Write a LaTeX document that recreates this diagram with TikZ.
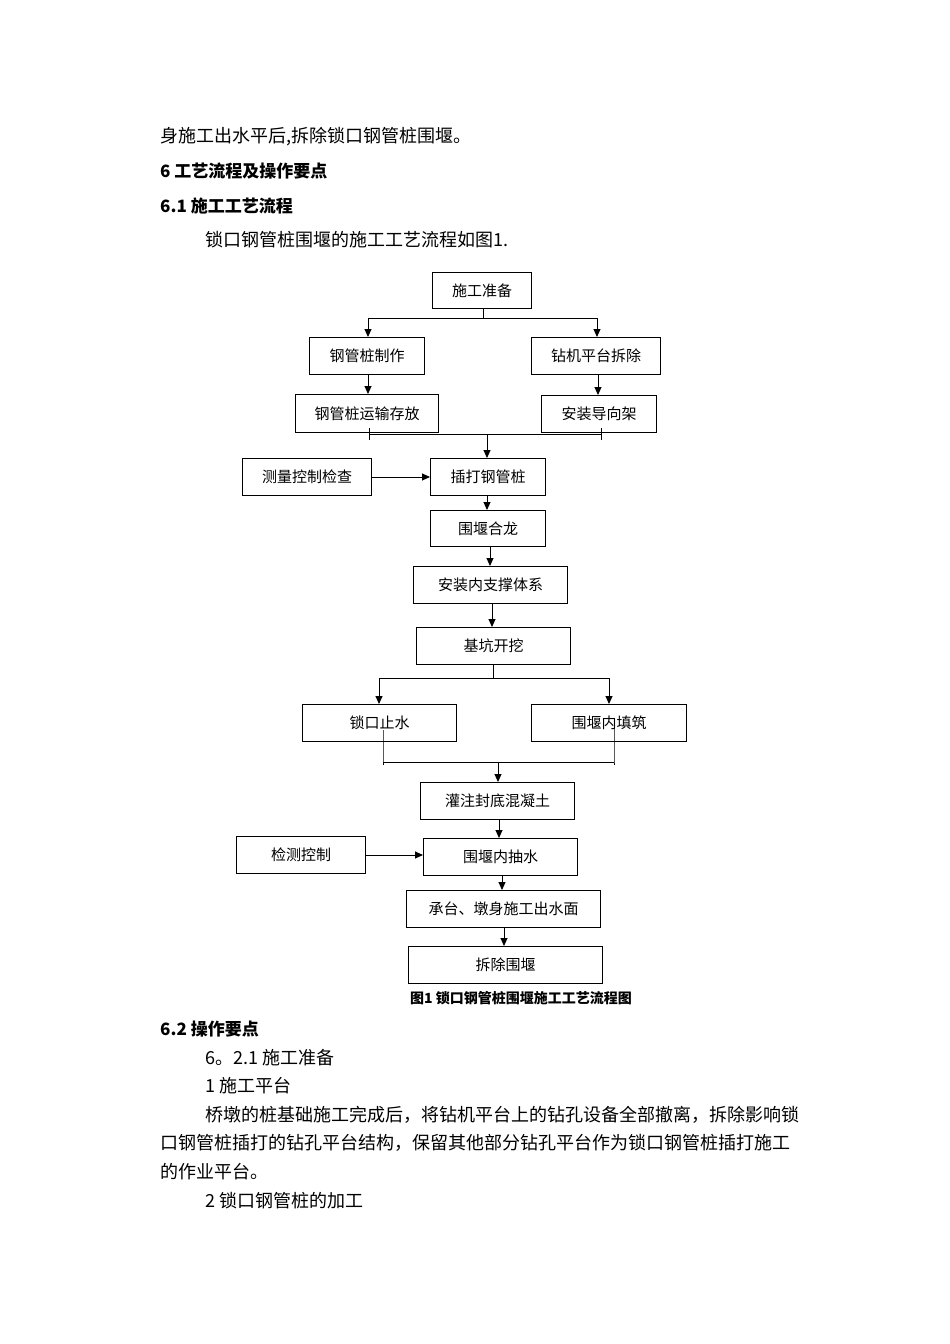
\documentclass[tikz,border=0pt]{standalone}
\usepackage{fontspec}
\setmainfont{Liberation Serif}
\newfontfamily\cjk{Noto Sans CJK SC}
\usetikzlibrary{arrows.meta,calc}
\begin{document}
\begin{tikzpicture}[x=1pt,y=-1pt,
  bx/.style={draw,line width=1pt,inner sep=0pt,anchor=north west,font=\cjk\fontsize{15}{16}\selectfont},
  ar/.style={line width=0.9pt,-{Triangle[length=8pt,width=7pt]}},
  ln/.style={line width=0.9pt},
  tx/.style={anchor=west,inner sep=0pt,font=\cjk\fontsize{18}{20}\selectfont},
  hd/.style={anchor=west,inner sep=0pt,font=\cjk\bfseries\fontsize{17}{20}\selectfont}]
\useasboundingbox (0,0) rectangle (950,1344);
\fill[white] (0,0) rectangle (950,1344);
\node[tx] (t1) at (160,137) {身施工出水平后,拆除锁口钢管桩围堰。};
\node[hd] (h1) at (160,171) {6\ 工艺流程及操作要点};
\node[hd] (h2) at (160,206) {6.1\ 施工工艺流程};
\node[tx] (t2) at (205,240) {锁口钢管桩围堰的施工工艺流程如图1.};
\node[hd] (h3) at (160,1029) {6.2\ 操作要点};
\node[tx] (t3) at (205,1058) {6。2.1\ 施工准备};
\node[tx] (t4) at (205,1086) {1\ 施工平台};
\node[tx] (t5) at (205,1115) {桥墩的桩基础施工完成后，将钻机平台上的钻孔设备全部撤离，拆除影响锁};
\node[tx] (t6) at (160,1143) {口钢管桩插打的钻孔平台结构，保留其他部分钻孔平台作为锁口钢管桩插打施工};
\node[tx] (t7) at (160,1172) {的作业平台。};
\node[tx] (t8) at (205,1201) {2\ 锁口钢管桩的加工};
\node[inner sep=0pt,font=\cjk\bfseries\fontsize{14}{16}\selectfont] (cap) at (521,998) {图1\ 锁口钢管桩围堰施工工艺流程图};
% boxes
\node[bx,minimum width=99pt,minimum height=36pt] (a) at (432,272) {施工准备};
\node[bx,minimum width=115pt,minimum height=37pt] (b1) at (309,337) {钢管桩制作};
\node[bx,minimum width=129pt,minimum height=37pt] (b2) at (531,337) {钻机平台拆除};
\node[bx,minimum width=143pt,minimum height=38pt] (c1) at (295,394) {钢管桩运输存放};
\node[bx,minimum width=115pt,minimum height=37pt] (c2) at (541,395) {安装导向架};
\node[bx,minimum width=129pt,minimum height=37pt] (m1) at (242,458) {测量控制检查};
\node[bx,minimum width=115pt,minimum height=37pt] (d) at (430,458) {插打钢管桩};
\node[bx,minimum width=115pt,minimum height=36pt] (e) at (430,510) {围堰合龙};
\node[bx,minimum width=154pt,minimum height=37pt] (f) at (413,566) {安装内支撑体系};
\node[bx,minimum width=154pt,minimum height=37pt] (g) at (416,627) {基坑开挖};
\node[bx,minimum width=154pt,minimum height=37pt] (h1b) at (302,704) {锁口止水};
\node[bx,minimum width=155pt,minimum height=37pt] (h2b) at (531,704) {围堰内填筑};
\node[bx,minimum width=154pt,minimum height=37pt] (i) at (420,782) {灌注封底混凝土};
\node[bx,minimum width=129pt,minimum height=37pt] (m2) at (236,836) {检测控制};
\node[bx,minimum width=154pt,minimum height=37pt] (j) at (423,838) {围堰内抽水};
\node[bx,minimum width=194pt,minimum height=37pt] (k) at (406,890) {承台、墩身施工出水面};
\node[bx,minimum width=194pt,minimum height=37pt] (l) at (408,946) {拆除围堰};
% coordinates
\coordinate (s1) at (483,318); \coordinate (s1a) at (483,308);
\coordinate (s1l) at (368,318); \coordinate (s1r) at (597,318);
\coordinate (m1l) at (369,434); \coordinate (m1r) at (601,434); \coordinate (m1c) at (487,434);
\coordinate (s2l) at (379,678); \coordinate (s2r) at (609,678); \coordinate (s2c) at (493,678);
\coordinate (m2l) at (383,762); \coordinate (m2r) at (614,762); \coordinate (m2c) at (498,762);
\coordinate (xb2) at (598,0); \coordinate (xe) at (490,0); \coordinate (xf) at (492,0);
\coordinate (xi) at (499,0); \coordinate (xj) at (502,0); \coordinate (xk) at (504,0);
\draw[ln] (s1a) -- (s1);
\draw[ln] (s1l) -- (s1r);
\draw[ar] (s1l) -- (b1.north -| s1l);
\draw[ar] (s1r) -- (b2.north -| s1r);
\draw[ar] (b1.south -| s1l) -- (c1.north -| s1l);
\draw[ar] (b2.south -| xb2) -- (c2.north -| xb2);
\draw[ln] (m1l) -- (m1r);
\draw[ln] ($(m1l)+(0,-6)$) -- ($(m1l)+(0,6)$);
\draw[ln] ($(m1r)+(0,-6)$) -- ($(m1r)+(0,6)$);
\draw[ar] (m1c) -- (d.north -| m1c);
\draw[ar] (m1) -- (d);
\draw[ar] (d.south -| m1c) -- (e.north -| m1c);
\draw[ar] (e.south -| xe) -- (f.north -| xe);
\draw[ar] (f.south -| xf) -- (g.north -| xf);
\draw[ln] (g.south -| s2c) -- (s2c);
\draw[ln] (s2l) -- (s2r);
\draw[ar] (s2l) -- (h1b.north -| s2l);
\draw[ar] (s2r) -- (h2b.north -| s2r);
\draw[ln] (383,730) -- (m2l) -- ++(0,3);
\draw[ln] (614,728) -- (m2r) -- ++(0,3);
\draw[ln] (m2l) -- (m2r);
\draw[ar] (m2c) -- (i.north -| m2c);
\draw[ar] (i.south -| xi) -- (j.north -| xi);
\draw[ar] (m2) -- (j.west |- m2);
\draw[ar] (j.south -| xj) -- (k.north -| xj);
\draw[ar] (k.south -| xk) -- (l.north -| xk);
\end{tikzpicture}
\end{document}
